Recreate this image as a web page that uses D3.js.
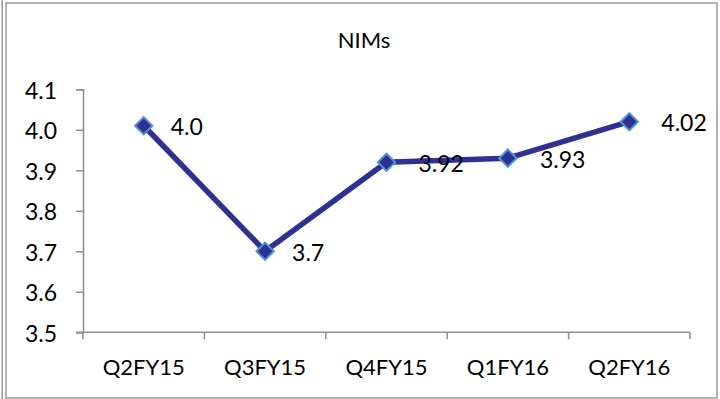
<!DOCTYPE html>
<html>
<head>
<meta charset="utf-8">
<script src="https://cdn.jsdelivr.net/npm/d3@7/dist/d3.min.js"></script>
<style>
  html, body { margin: 0; padding: 0; background: #fff; }
  svg { display: block; }
  text { font-family: Lato, "Open Sans", sans-serif; fill: #000; }
</style>
</head>
<body>
<svg id="chart" width="720" height="399"></svg>
<script>
// Net interest margins by quarter
const quarters = ["Q2FY15", "Q3FY15", "Q4FY15", "Q1FY16", "Q2FY16"];
const nimValues = [4.01, 3.70, 3.92, 3.93, 4.02];
const labelDecimals = [1, 1, 2, 2, 2];
const yTicks = [3.5, 3.6, 3.7, 3.8, 3.9, 4.0, 4.1];
const chartTitle = "NIMs";

const svg = d3.select("#chart");
const H = 399;
const plot = { left: 83, right: 690, top: 89.3, bottom: 332.3 };
const axisColor = "#8e8e8e";

// Frame: double rule on the left, single elsewhere
svg.append("rect").attr("x", 6).attr("y", 3).attr("width", 711).attr("height", 395)
  .attr("fill", "none").attr("stroke", "#9a9a9a").attr("stroke-width", 1.5);
svg.append("line").attr("x1", 2.2).attr("x2", 2.2).attr("y1", 0).attr("y2", H)
  .attr("stroke", "#9a9a9a").attr("stroke-width", 1.5);

const x = d3.scaleBand().domain(quarters).range([plot.left, plot.right]);
const y = d3.scaleLinear().domain([3.5, 4.1]).range([plot.bottom, plot.top]);

// Title
svg.append("text").attr("x", 364).attr("y", 48).attr("text-anchor", "middle")
  .attr("font-size", 22).text(chartTitle);

// Y axis
const yAxis = svg.append("g").attr("transform", `translate(${plot.left},0)`)
  .call(d3.axisLeft(y).tickValues(yTicks).tickFormat(d3.format(".1f")).tickSize(7).tickPadding(19));
yAxis.select(".domain").attr("stroke", axisColor).attr("stroke-width", 1.5);
yAxis.selectAll(".tick line").attr("stroke", axisColor).attr("stroke-width", 1.5);
yAxis.selectAll(".tick text").attr("font-size", 23).attr("font-family", "Lato, sans-serif")
  .attr("fill", "#000").attr("dy", "0.38em");

// X axis with ticks between categories
const xAxisG = svg.append("g").attr("transform", `translate(0,${plot.bottom})`);
xAxisG.append("line").attr("x1", plot.left - 7).attr("x2", plot.right).attr("y1", 0).attr("y2", 0)
  .attr("stroke", axisColor).attr("stroke-width", 1.5);
const boundaries = quarters.map(q => x(q)).concat([x(quarters[quarters.length - 1]) + x.bandwidth()]);
xAxisG.selectAll("line.tk").data(boundaries).join("line").attr("class", "tk")
  .attr("x1", d => d).attr("x2", d => d).attr("y1", 0).attr("y2", 7)
  .attr("stroke", axisColor).attr("stroke-width", 1.5);
xAxisG.selectAll("text").data(quarters).join("text")
  .attr("x", d => x(d) + x.bandwidth() / 2).attr("y", 43)
  .attr("text-anchor", "middle").attr("font-size", 22).text(d => d);

// Line series
const cx = (d, i) => x(quarters[i]) + x.bandwidth() / 2;
const line = d3.line().x((d, i) => cx(d, i)).y(d => y(d));
svg.append("path").datum(nimValues).attr("d", line)
  .attr("fill", "none").attr("stroke", "#2e3192").attr("stroke-width", 5.5)
  .attr("stroke-linejoin", "round");

// Diamond markers
svg.selectAll("path.marker").data(nimValues).join("path").attr("class", "marker")
  .attr("d", d3.symbol().type(d3.symbolSquare).size(150))
  .attr("transform", (d, i) => `translate(${cx(d, i)},${y(d)}) rotate(45)`)
  .attr("fill", "#2e3192").attr("stroke", "#4f92d6").attr("stroke-width", 2);

// Value labels to the right of each point
const labelText = (d, i) => d3.format(`.${labelDecimals[i]}f`)(d);
svg.selectAll("text.val").data(nimValues).join("text").attr("class", "val")
  .attr("x", (d, i) => cx(d, i) + (labelText(d, i).length > 3 ? 32 : 27))
  .attr("y", d => y(d) + 9.5)
  .attr("font-size", 23)
  .text(labelText);
</script>
</body>
</html>
